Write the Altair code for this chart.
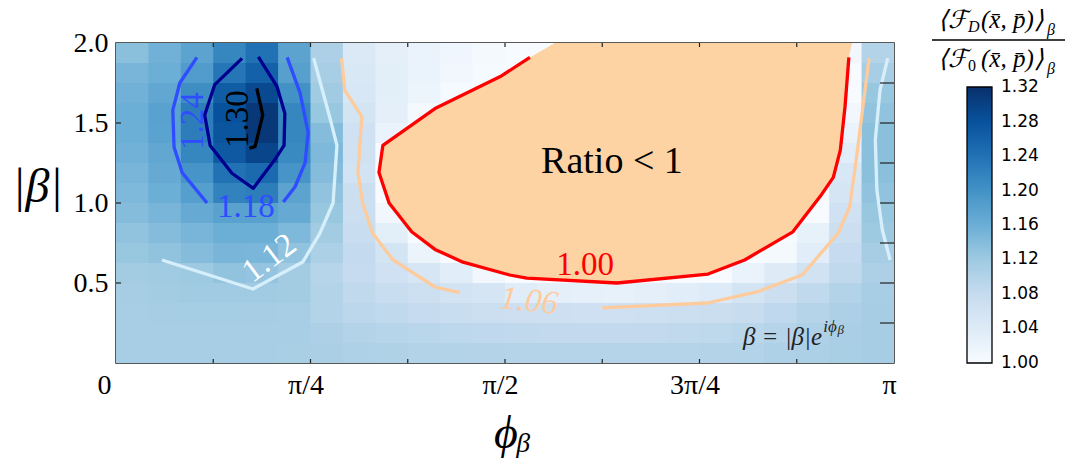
import altair as alt
import pandas as pd

# ---------------- data ----------------
# heat-map cells: 24 columns in phi/pi (0..1), 16 rows in |beta| (top row first: 1.875-2.0)
N_COL = 24
ROW_H = 0.125
ratio_rows = [
    [1.135, 1.155, 1.175, 1.215, 1.24, 1.175, 1.105, 1.045, 1.03, 1.02, 1.012, 1.005, 1.0, 0.98, 0.97, 0.97, 0.97, 0.97, 0.97, 0.97, 0.98, 0.99, 1.01, 1.10],
    [1.15, 1.16, 1.185, 1.235, 1.26, 1.18, 1.11, 1.048, 1.033, 1.02, 1.01, 1.003, 0.99, 0.97, 0.97, 0.97, 0.97, 0.97, 0.97, 0.97, 0.97, 0.98, 1.0, 1.11],
    [1.155, 1.17, 1.205, 1.265, 1.29, 1.20, 1.117, 1.05, 1.033, 1.017, 1.003, 0.99, 0.97, 0.97, 0.97, 0.97, 0.97, 0.97, 0.97, 0.97, 0.97, 0.975, 1.0, 1.125],
    [1.16, 1.178, 1.225, 1.28, 1.31, 1.215, 1.125, 1.058, 1.03, 1.005, 0.98, 0.97, 0.97, 0.97, 0.97, 0.97, 0.97, 0.97, 0.97, 0.97, 0.97, 0.97, 1.01, 1.13],
    [1.16, 1.177, 1.225, 1.275, 1.31, 1.215, 1.14, 1.065, 1.02, 0.99, 0.97, 0.97, 0.97, 0.97, 0.97, 0.97, 0.97, 0.97, 0.97, 0.97, 0.97, 0.97, 1.02, 1.135],
    [1.155, 1.17, 1.215, 1.27, 1.295, 1.21, 1.145, 1.063, 0.995, 0.97, 0.97, 0.97, 0.97, 0.97, 0.97, 0.97, 0.97, 0.97, 0.97, 0.97, 0.97, 0.97, 1.035, 1.135],
    [1.15, 1.165, 1.195, 1.24, 1.25, 1.195, 1.14, 1.06, 0.99, 0.97, 0.97, 0.97, 0.97, 0.97, 0.97, 0.97, 0.97, 0.97, 0.97, 0.97, 0.97, 0.99, 1.05, 1.135],
    [1.145, 1.16, 1.182, 1.22, 1.225, 1.175, 1.13, 1.07, 0.995, 0.97, 0.97, 0.97, 0.97, 0.97, 0.97, 0.97, 0.97, 0.97, 0.97, 0.97, 0.97, 0.995, 1.055, 1.13],
    [1.14, 1.15, 1.165, 1.178, 1.178, 1.165, 1.125, 1.07, 1.01, 0.98, 0.97, 0.97, 0.97, 0.97, 0.97, 0.97, 0.97, 0.97, 0.97, 0.97, 0.97, 1.0, 1.065, 1.125],
    [1.13, 1.14, 1.15, 1.16, 1.16, 1.145, 1.115, 1.076, 1.033, 0.99, 0.97, 0.97, 0.97, 0.97, 0.97, 0.97, 0.97, 0.97, 0.97, 0.98, 0.995, 1.026, 1.07, 1.12],
    [1.125, 1.13, 1.14, 1.15, 1.148, 1.13, 1.106, 1.082, 1.058, 1.018, 0.97, 0.97, 0.97, 0.97, 0.97, 0.97, 0.97, 0.97, 0.97, 0.99, 1.005, 1.035, 1.08, 1.112],
    [1.115, 1.118, 1.12, 1.13, 1.128, 1.115, 1.095, 1.08, 1.065, 1.052, 1.035, 1.01, 0.995, 0.98, 0.98, 0.98, 0.98, 0.98, 0.998, 1.02, 1.04, 1.062, 1.085, 1.105],
    [1.112, 1.115, 1.118, 1.118, 1.118, 1.115, 1.10, 1.085, 1.075, 1.068, 1.06, 1.054, 1.037, 1.03, 1.027, 1.026, 1.03, 1.035, 1.042, 1.058, 1.07, 1.085, 1.10, 1.11],
    [1.11, 1.112, 1.113, 1.113, 1.112, 1.11, 1.10, 1.09, 1.085, 1.08, 1.075, 1.071, 1.069, 1.068, 1.067, 1.067, 1.068, 1.07, 1.073, 1.078, 1.087, 1.096, 1.105, 1.112],
    [1.11, 1.111, 1.111, 1.111, 1.111, 1.11, 1.105, 1.10, 1.095, 1.092, 1.089, 1.087, 1.085, 1.084, 1.083, 1.083, 1.084, 1.085, 1.088, 1.092, 1.097, 1.103, 1.108, 1.112],
    [1.11, 1.11, 1.11, 1.11, 1.11, 1.109, 1.107, 1.104, 1.102, 1.10, 1.099, 1.098, 1.097, 1.096, 1.096, 1.096, 1.096, 1.097, 1.098, 1.10, 1.103, 1.106, 1.109, 1.112],
]

# contour lines (phi in units of pi, |beta|)
c100_phi = [0.532, 0.494, 0.410, 0.343, 0.338, 0.351, 0.380, 0.410, 0.446, 0.506, 0.528, 0.644, 0.761, 0.808, 0.870, 0.905, 0.922, 0.931, 0.937, 0.942]
c100_beta = [1.91, 1.79, 1.59, 1.36, 1.19, 1.00, 0.82, 0.71, 0.63, 0.55, 0.53, 0.50, 0.556, 0.644, 0.82, 1.04, 1.16, 1.33, 1.60, 1.91]
fill_phi = [0.564] + c100_phi + [0.946]
fill_beta = [2.0] + c100_beta + [2.0]

c106a_phi = [0.290, 0.294, 0.316, 0.311, 0.317, 0.330, 0.356, 0.410, 0.442]
c106a_beta = [1.906, 1.706, 1.54, 1.19, 1.00, 0.81, 0.644, 0.475, 0.44]
c106b_phi = [0.625, 0.760, 0.824, 0.882, 0.928, 0.943, 0.952, 0.960, 0.968]
c106b_beta = [0.344, 0.375, 0.444, 0.55, 0.81, 0.975, 1.29, 1.60, 1.906]

c112a_phi = [0.254, 0.275, 0.284, 0.279, 0.262, 0.240, 0.176, 0.059]
c112a_beta = [1.906, 1.531, 1.36, 1.00, 0.81, 0.631, 0.4625, 0.644]
c112b_phi = [0.992, 0.982, 0.976, 0.978, 0.985, 0.995]
c112b_beta = [1.906, 1.706, 1.394, 1.081, 0.831, 0.644]

c118a_phi = [0.104, 0.082, 0.073, 0.0746, 0.085, 0.117]
c118a_beta = [1.91, 1.75, 1.58, 1.35, 1.19, 1.00]
c118b_phi = [0.220, 0.2365, 0.247, 0.243, 0.230, 0.215]
c118b_beta = [1.91, 1.69, 1.44, 1.25, 1.10, 1.006]

c124_phi = [0.162, 0.127, 0.114, 0.121, 0.149, 0.1765, 0.204, 0.216, 0.217, 0.207, 0.183]
c124_beta = [1.904, 1.74, 1.55, 1.36, 1.186, 1.092, 1.27, 1.36, 1.56, 1.727, 1.914]

c130_phi = [0.181, 0.1886, 0.1787, 0.1714]
c130_beta = [1.717, 1.55, 1.352, 1.342]

# contour labels
lab_text = ["1.30", "1.24", "1.18", "1.12", "1.06", "1.00"]
lab_phi = [0.157, 0.099, 0.167, 0.197, 0.531, 0.603]
lab_beta = [1.525, 1.5125, 0.975, 0.656, 0.3875, 0.6125]
lab_angle = [270, 270, 0, 323, 6, 0]
lab_color = ["#000000", "#2f4dff", "#2f4dff", "#ffffff", "#fdcb9c", "#ff0000"]
lab_style = ["normal", "normal", "normal", "normal", "italic", "normal"]

x_tick_vals = [0, 0.25, 0.5, 0.75, 1]
y_tick_vals = [0.5, 1.0, 1.5, 2.0]
minor_x = [0.125, 0.25, 0.375, 0.5, 0.625, 0.75, 0.875]
left_ticks = [0.5, 1.0, 1.5]
right_ticks = [0.25, 0.5, 0.75, 1.0, 1.25, 1.5, 1.75]
cbar_vals = [1.00, 1.04, 1.08, 1.12, 1.16, 1.20, 1.24, 1.28, 1.32]
# colour map stops (ColorBrewer Blues, as in the reference colour bar)
cbar_colors = ["#f7fbff", "#deebf7", "#c6dbef", "#9ecae1", "#6baed6",
               "#4292c6", "#2171b5", "#08519c", "#08306b"]
# the two end stops are nudged a hair outward so the end labels stay centred on the bar ends
cbar_domain = [0.9999] + cbar_vals[1:-1] + [1.3201]

# ---------------- build tables ----------------
OVL = 0.03  # small overlap of neighbouring cells to hide anti-aliasing seams
cells = []
for r, row in enumerate(ratio_rows):
    for i, v in enumerate(row):
        cells.append({
            "phi": i / N_COL, "phi2": min(1.0, (i + 1 + OVL) / N_COL),
            "beta": max(0.0, 2.0 - (r + 1 + OVL) * ROW_H), "beta2": 2.0 - r * ROW_H,
            "v": v,
        })
cells = pd.DataFrame(cells)

W, H = 778, 320
SERIF = "Liberation Serif"

cscale = alt.Scale(domain=cbar_domain, range=cbar_colors, clamp=True, interpolate="rgb")

heat = alt.Chart(cells).mark_rect().encode(
    x=alt.X("phi:Q", scale=alt.Scale(domain=[0, 1], nice=False, zero=False),
            axis=alt.Axis(values=x_tick_vals, ticks=False, domain=False, grid=False,
                          labelExpr="datum.value == 0 ? '0' : datum.value == 0.25 ? 'π/4' : datum.value == 0.5 ? 'π/2' : datum.value == 0.75 ? '3π/4' : 'π'",
                          labelAlign={"condition": {"test": "datum.value == 0", "value": "right"}, "value": "center"},
                          labelFont=SERIF, labelFontSize=28, labelColor="black",
                          labelPadding=8, labelOffset=-5,
                          title="ϕᵦ", titleFont=SERIF, titleFontSize=46, titleFontStyle="italic",
                          titleFontWeight="normal", titleColor="black",
                          titleX=396, titleY=70, titleBaseline="middle", titleAlign="center")),
    x2="phi2:Q",
    y=alt.Y("beta:Q", scale=alt.Scale(domain=[0, 2], nice=False, zero=False),
            axis=alt.Axis(values=y_tick_vals, format=".1f", ticks=False, domain=False, grid=False,
                          labelFont=SERIF, labelFontSize=28, labelColor="black", labelPadding=8,
                          title="|β|", titleFont=SERIF, titleFontSize=48, titleFontStyle="italic",
                          titleFontWeight="normal", titleColor="black", titleAngle=0,
                          titleX=-79, titleY=144, titleAlign="center", titleBaseline="middle")),
    y2="beta2:Q",
    color=alt.Color("v:Q", scale=cscale,
                    legend=alt.Legend(type="gradient", title=None, orient="none", legendX=851, legendY=44,
                                      direction="vertical", gradientLength=276, gradientThickness=25,
                                      gradientStrokeColor="black", gradientStrokeWidth=1.3,
                                      values=cbar_vals, format=".2f", labelFont="DejaVu Sans",
                                      labelFontSize=17, labelColor="black", labelOffset=9,
                                      labelBaseline="middle", labelOverlap=False, padding=0)),
)

fill_df = pd.DataFrame({"phi": fill_phi, "beta": fill_beta, "k": range(len(fill_phi))})
orange = alt.Chart(fill_df).mark_line(fill="#fdd3a3", strokeOpacity=0).encode(
    x="phi:Q", y="beta:Q", order="k:Q")

segs = [
    (c106a_phi, c106a_beta, "#fdcb9c"),
    (c106b_phi, c106b_beta, "#fdcb9c"),
    (c112a_phi, c112a_beta, "#d6effb"),
    (c112b_phi, c112b_beta, "#d6effb"),
    (c118a_phi, c118a_beta, "#2f4dff"),
    (c118b_phi, c118b_beta, "#2f4dff"),
    (c124_phi, c124_beta, "#000090"),
    (c130_phi, c130_beta, "#000000"),
    (c100_phi, c100_beta, "#ff0000"),
]
line_layers = []
for px, py, col in segs:
    d = pd.DataFrame({"phi": px, "beta": py, "k": range(len(px))})
    line_layers.append(alt.Chart(d).mark_line(strokeWidth=3.3, strokeJoin="round", color=col).encode(
        x="phi:Q", y="beta:Q", order="k:Q"))

labels = []
for t, a, b, ang, col, sty in zip(lab_text, lab_phi, lab_beta, lab_angle, lab_color, lab_style):
    labels.append(alt.Chart(pd.DataFrame({"phi": [a], "beta": [b], "t": [t]})).mark_text(
        font=SERIF, fontSize=33, angle=ang, color=col, fontStyle=sty,
        align="center", baseline="middle").encode(x="phi:Q", y="beta:Q", text="t:N"))

ratio_txt = alt.Chart(pd.DataFrame({"phi": [0.6375], "beta": [1.256], "t": ["Ratio < 1"]})).mark_text(
    font=SERIF, fontSize=38, color="black", align="center", baseline="middle").encode(
    x="phi:Q", y="beta:Q", text="t:N")

beta_main = alt.Chart(pd.DataFrame({"phi": [0.9075], "beta": [0.165], "t": ["β = |β|e"]})).mark_text(
    font=SERIF, fontSize=25, fontStyle="italic", color="#222", align="right", baseline="middle").encode(
    x="phi:Q", y="beta:Q", text="t:N")
beta_sup = alt.Chart(pd.DataFrame({"phi": [0.909], "beta": [0.225], "t": ["iϕ"]})).mark_text(
    font=SERIF, fontSize=17, fontStyle="italic", color="#222", align="left", baseline="middle").encode(
    x="phi:Q", y="beta:Q", text="t:N")
beta_sub = alt.Chart(pd.DataFrame({"phi": [0.9275], "beta": [0.205], "t": ["β"]})).mark_text(
    font=SERIF, fontSize=13, fontStyle="italic", color="#222", align="left", baseline="middle").encode(
    x="phi:Q", y="beta:Q", text="t:N")

tick_col = "#222"
top_t = alt.Chart(pd.DataFrame({"phi": minor_x})).mark_rule(color=tick_col, strokeWidth=1.2).encode(
    x="phi:Q", y=alt.value(0), y2=alt.value(4))
bot_t = alt.Chart(pd.DataFrame({"phi": minor_x})).mark_rule(color=tick_col, strokeWidth=1.2).encode(
    x="phi:Q", y=alt.value(H - 4), y2=alt.value(H))
left_t = alt.Chart(pd.DataFrame({"beta": left_ticks})).mark_rule(color=tick_col, strokeWidth=1.2).encode(
    y="beta:Q", x=alt.value(0), x2=alt.value(5))
right_t = alt.Chart(pd.DataFrame({"beta": right_ticks})).mark_rule(color=tick_col, strokeWidth=1.2).encode(
    y="beta:Q", x=alt.value(W - 14), x2=alt.value(W))

# colour-bar title (a fraction), placed in the right margin
one = pd.DataFrame({"a": [0]})
def txt(s, x, y, size, align="left", style="italic"):
    return alt.Chart(one).mark_text(font=SERIF, fontSize=size, fontStyle=style, color="black",
                                    align=align, baseline="alphabetic").encode(
        x=alt.value(x), y=alt.value(y), text=alt.value(s))

title_parts = [
    txt("⟨ℱ", 852, -15, 25, "right"),
    txt("D", 852, -11, 16),
    txt("(x\u0304, p\u0304)⟩", 865, -15, 25),
    txt("β", 931, -8, 16),
    txt("⟨ℱ", 852, 24, 25, "right"),
    txt("0", 852, 28, 16, style="normal"),
    txt("(x\u0304, p\u0304)⟩", 865, 24, 25),
    txt("β", 931, 31, 16),
    alt.Chart(one).mark_rule(color="black", strokeWidth=1.5).encode(
        x=alt.value(816), x2=alt.value(949), y=alt.value(-3)),
]

chart = alt.layer(
    heat, orange, *line_layers, *labels, ratio_txt, beta_main, beta_sup, beta_sub,
    top_t, bot_t, left_t, right_t, *title_parts
).properties(
    width=W, height=H,
    autosize=alt.AutoSizeParams(type="none"),
    padding={"left": 116, "top": 43, "right": 185, "bottom": 95},
    background="white",
).configure_view(stroke="#222", strokeWidth=1.5)

chart.save("out.html", embed_options={"renderer": "svg", "actions": False})
